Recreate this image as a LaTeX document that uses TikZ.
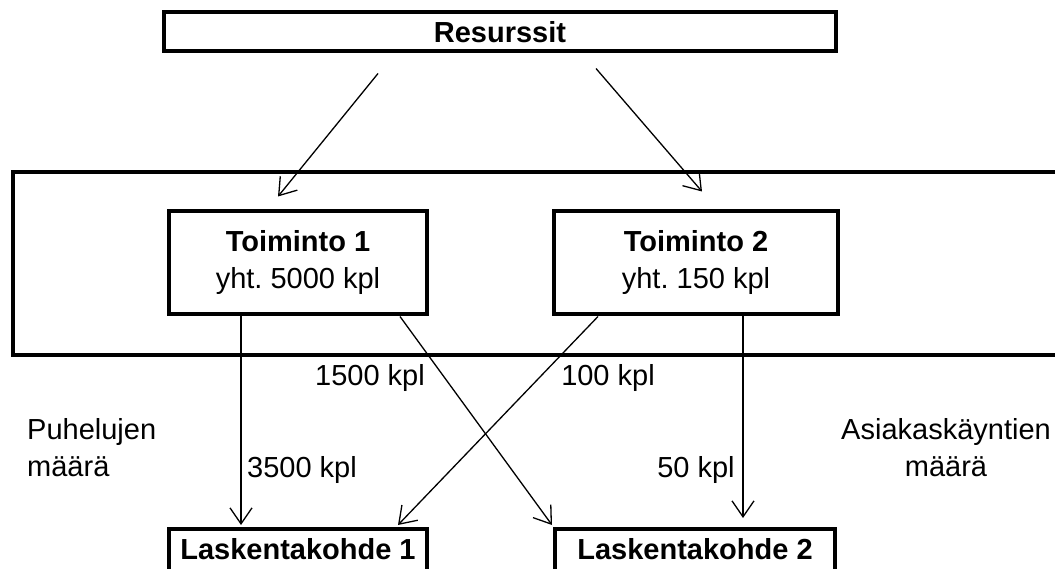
\documentclass[tikz,border=0pt]{standalone}
\usepackage{fontspec}
\setmainfont{Liberation Sans}
\usetikzlibrary{arrows.meta,calc}
\frenchspacing
\begin{document}
\begin{tikzpicture}[x=1pt,y=-1pt,
	every node/.style={inner sep=0pt, font=\fontsize{29}{37}\selectfont},
	box/.style={draw, line width=4pt, align=center},
	target/.style={box, minimum height=52, text height=21pt, text depth=12pt},
	flow/.style={-{Straight Barb[length=16pt,width=22pt]}, line width=1.3pt}]
\useasboundingbox (0,0) rectangle (1055,569);
\draw[line width=4pt] (13,172) rectangle (1080,355);
\node[box, minimum width=672, minimum height=39] (res) at (500,32) {\textbf{Resurssit}};
\node[box, minimum width=258, minimum height=103] (t1) at (298,263) {\textbf{Toiminto 1}\\yht. 5000 kpl};
\node[box, minimum width=284, minimum height=103] (t2) at (696,263) {\textbf{Toiminto 2}\\yht. 150 kpl};
\node[target, minimum width=258] (l1) at (298,555) {\textbf{Laskentakohde 1}};
\node[target, minimum width=280] (l2) at (695,555) {\textbf{Laskentakohde 2}};

\draw[flow] ($(res.south)+(-122,20)$) -- ($(t1.north)+(-20,-13)$);
\draw[flow] ($(res.south)+(96,15)$) -- ($(t2.north)+(6,-18)$);
\draw[flow] ($(t1.south)+(-57,0)$) -- ($(l1.north)+(-57,-2)$);
\draw[flow] ($(t1.south)+(102,0)$) -- ($(l2.north west)+(-1,-2)$);
\draw[flow] ($(t2.south)+(-98,0)$) -- ($(l1.north east)+(-31,-2)$);
\draw[flow] ($(t2.south)+(47,0)$) -- ($(l2.north)+(48,-9)$);

\node (k1500) at (370,378) {1500 kpl};
\node (k100) at (608,378) {100 kpl};
\node[anchor=west] (k3500) at (247,470) {3500 kpl};
\node (k50) at (696,470) {50 kpl};
\node[anchor=west, align=left] (puh) at (27,448) {Puhelujen\\määrä};
\node[align=center] (asi) at (946,448) {Asiakaskäyntien\\määrä};
\end{tikzpicture}
\end{document}
